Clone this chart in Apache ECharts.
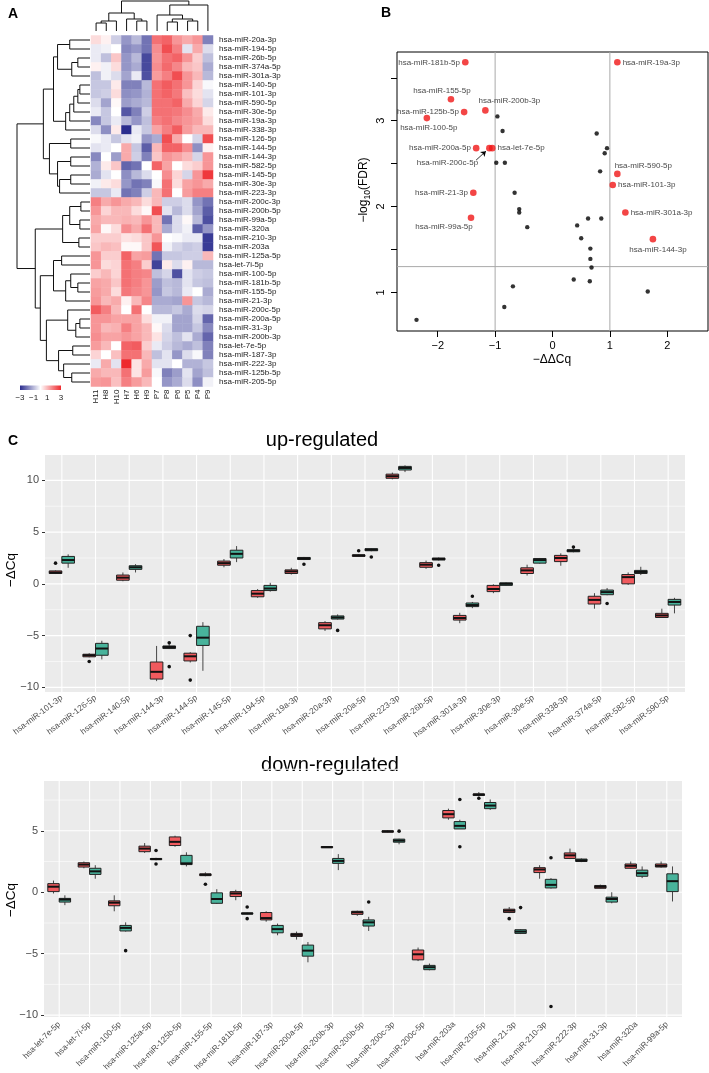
<!DOCTYPE html>
<html><head><meta charset="utf-8">
<script src="https://cdn.jsdelivr.net/npm/echarts@6/dist/echarts.min.js"></script>
<style>html,body{margin:0;padding:0;background:#fff}#c{width:709px;height:1073px}</style>
</head><body><div id="c"></div>
<script>
// ================= DATA =================
// ---- Panel A: heatmap ----
const heatCols = ['H11','H8','H10','H7','H6','H9','P7','P8','P6','P5','P4','P9'];
const heatRows = ['hsa-miR-20a-3p','hsa-miR-194-5p','hsa-miR-26b-5p','hsa-miR-374a-5p','hsa-miR-301a-3p','hsa-miR-140-5p','hsa-miR-101-3p','hsa-miR-590-5p','hsa-miR-30e-5p','hsa-miR-19a-3p','hsa-miR-338-3p','hsa-miR-126-5p','hsa-miR-144-5p','hsa-miR-144-3p','hsa-miR-582-5p','hsa-miR-145-5p','hsa-miR-30e-3p','hsa-miR-223-3p','hsa-miR-200c-3p','hsa-miR-200b-5p','hsa-miR-99a-5p','hsa-miR-320a','hsa-miR-210-3p','hsa-miR-203a','hsa-miR-125a-5p','hsa-let-7i-5p','hsa-miR-100-5p','hsa-miR-181b-5p','hsa-miR-155-5p','hsa-miR-21-3p','hsa-miR-200c-5p','hsa-miR-200a-5p','hsa-miR-31-3p','hsa-miR-200b-3p','hsa-let-7e-5p','hsa-miR-187-3p','hsa-miR-222-3p','hsa-miR-125b-5p','hsa-miR-205-5p'];
const heatValues = [
 [0.5,0.2,-0.7,-1.5,-1.0,-2.0,2.0,2.2,1.5,1.2,1.5,-1.8],
 [-0.3,-0.2,0.0,-1.7,-1.5,-2.0,1.6,2.5,1.8,-0.4,1.2,-0.5],
 [-0.3,-0.9,0.8,-1.5,-1.0,-2.6,1.5,2.0,2.2,1.5,0.7,-0.9],
 [0.2,-0.2,0.5,-1.5,-1.2,-2.6,1.6,2.1,1.7,1.0,0.8,-1.2],
 [-0.9,-0.2,-0.5,-1.3,-0.3,-2.5,1.4,1.8,2.5,1.5,1.0,-1.0],
 [-0.8,-0.8,0.3,-1.8,-1.8,-1.0,2.0,2.3,2.0,1.5,0.6,-0.1],
 [-0.8,-0.7,0.5,-1.6,-1.5,-1.1,2.0,2.2,1.9,0.9,0.5,-0.4],
 [-0.5,-1.3,0.1,-1.4,-1.2,-1.0,2.0,2.0,2.2,1.2,0.6,-0.6],
 [-0.3,-0.8,0.0,-2.4,-1.8,-0.7,2.0,2.0,1.9,1.6,1.2,0.3],
 [-1.7,-0.8,-0.3,-1.0,-1.5,-0.9,1.8,2.0,1.7,1.5,1.3,0.5],
 [-0.5,-1.6,0.3,-3.0,-0.3,-0.8,1.3,1.8,2.3,1.4,1.0,1.0],
 [-0.1,-0.3,-0.8,-0.4,-0.2,-1.5,-1.2,2.5,1.2,0.0,-0.6,2.5],
 [-0.4,-0.3,0.0,1.2,-0.8,-2.3,1.0,2.2,2.2,1.6,-1.6,0.2],
 [-1.7,0.0,-1.4,1.2,-0.7,-1.8,0.8,1.5,1.3,1.0,-0.6,1.5],
 [-1.1,0.3,0.8,-2.2,-2.0,0.0,2.2,1.3,0.0,0.5,0.7,1.5],
 [-1.2,-0.4,0.0,-1.6,-1.0,-0.5,0.0,1.6,0.6,-0.6,1.5,2.8],
 [-0.2,0.3,0.5,-1.5,-2.0,-1.8,-0.1,2.0,0.5,1.3,1.5,1.2],
 [-0.8,-0.8,-0.3,-2.0,-1.8,-0.7,1.0,2.0,0.0,1.4,1.8,1.8],
 [1.8,1.2,1.5,1.2,1.0,0.5,1.0,-0.7,-0.7,-0.5,-1.5,-2.0],
 [1.5,0.6,1.0,1.0,0.5,0.1,2.5,-0.4,-1.0,-0.5,-1.3,-2.3],
 [1.2,1.0,1.0,1.1,1.0,1.5,1.0,-2.0,-0.5,0.1,-1.0,-2.5],
 [1.3,0.1,0.5,1.6,1.2,2.0,1.0,-1.2,-0.5,-0.2,-2.3,-1.5],
 [0.7,0.7,0.7,0.4,0.5,0.8,1.5,0.0,-0.1,-0.3,-0.3,-2.8],
 [0.8,1.0,0.9,0.1,0.1,0.8,2.4,-0.2,-0.6,-0.8,-0.7,-2.8],
 [1.5,0.7,0.7,2.2,1.3,1.4,-2.0,-0.8,-0.8,-0.7,-0.7,1.0],
 [1.5,0.5,0.6,2.0,1.8,0.7,-2.7,0.3,-0.5,0.2,-1.0,-1.0],
 [0.7,1.0,0.6,2.0,1.8,1.7,-0.9,-0.6,-2.5,-0.4,-0.7,-0.8],
 [1.3,1.2,0.8,2.0,1.8,1.5,-1.4,-0.9,-1.0,-0.4,-0.8,-0.9],
 [1.4,1.2,0.5,1.9,1.7,1.5,-1.5,-0.8,-1.0,-0.3,0.0,-1.2],
 [1.5,1.0,1.2,0.2,1.0,1.7,-1.2,-1.2,-1.3,1.5,-0.8,-1.0],
 [2.3,1.8,1.0,0.0,2.0,0.0,-1.0,-1.0,-0.8,-1.2,-0.5,-0.6],
 [1.5,1.5,1.3,1.3,1.3,0.5,-0.2,-0.2,-1.3,-1.3,-0.6,-2.2],
 [1.5,1.0,1.1,1.8,1.3,1.0,0.1,-0.5,-1.3,-1.3,-0.8,-1.7],
 [1.6,1.3,1.3,1.5,1.3,1.0,0.4,-0.6,-0.9,-0.4,-1.2,-2.2],
 [1.4,1.0,0.0,2.2,2.3,0.7,-0.3,-0.7,-1.0,-1.2,-0.9,-1.8],
 [0.6,0.0,0.9,2.0,2.0,1.0,-0.9,-0.4,-1.5,-0.5,-0.1,-1.8],
 [-0.3,1.2,-0.4,3.0,0.4,1.2,-0.4,-0.4,0.0,-1.1,-1.1,-0.8],
 [1.2,1.0,1.0,2.0,0.4,1.4,-0.1,-1.8,-1.4,-0.4,-1.3,-0.9],
 [1.4,1.5,0.9,1.8,1.4,1.0,0.0,-1.5,-1.2,-0.5,-1.6,-0.2]
];
// dendrograms: [mergeHeight, left, right]; leaves are row/column indices
const rowTree = [72,
  [46,
    [36, [32, [20, 0, 1], [18, [12, 2, 3], 4]], [24, [20, [16, [12, [10, 5, 6], 7], 8], 9], 10]],
    [40, [19, 11, 12], [32, [19, 13, 14], [30, [19, 15, 16], 17]]]],
  [54,
    [27, [20, [9, 18, 19], [10, 20, 21]], [11, 22, 23]],
    [49,
      [36, [28, 24, 25], [24, [19, 26, [12, 27, 28]], 29]],
      [43, [22, 30, [14, [10, 31, 32], 33]], [31, [17, 34, 35], [26, 36, [18, 37, 38]]]]]]];
const colTree = [30,
  [18, [10, [8, 0, 1], 2], [12, 3, [10, 4, 5]]],
  [26, [16, 6, [12, [9, 7, 8], [10, 9, 10]]], 11]];
const colorbarRange = [-3, 3];
const colorbarLabels = [-3, -1, 1, 3];

// ---- Panel B: volcano ----
const volRedNames = ['hsa-miR-181b-5p','hsa-miR-19a-3p','hsa-miR-155-5p','hsa-miR-200b-3p','hsa-miR-125b-5p','hsa-miR-100-5p','hsa-miR-200a-5p','hsa-let-7e-5p','hsa-miR-200c-5p','hsa-miR-590-5p','hsa-miR-101-3p','hsa-miR-21-3p','hsa-miR-99a-5p','hsa-miR-301a-3p','hsa-miR-144-3p'];
const volRedX = [-1.52, 1.13, -1.77, -1.17, -1.54, -2.19, -1.33, -1.05, -1.10, 1.13, 1.05, -1.38, -1.42, 1.27, 1.75];
const volRedY = [3.68, 3.68, 3.25, 3.12, 3.10, 3.03, 2.68, 2.68, 2.68, 2.38, 2.25, 2.16, 1.87, 1.93, 1.62];
const volBlackX = [-0.96,-0.87,0.77,0.95,0.91,-0.98,-0.83,0.83,-0.66,-0.58,-0.58,-0.44,0.43,0.62,0.85,0.50,0.66,0.66,0.68,0.37,0.65,-0.69,1.66,-0.84,-2.37];
const volBlackY = [3.05,2.88,2.85,2.68,2.62,2.51,2.51,2.41,2.16,1.97,1.93,1.76,1.78,1.86,1.86,1.63,1.51,1.39,1.29,1.15,1.13,1.07,1.01,0.83,0.68];
const volXTicks = [-2, -1, 0, 1, 2];
const volYTicks = [1, 1.5, 2, 2.5, 3, 3.5];
const volYLabels = [1, 2, 3];
const volCutX = [-1, 1];
const volCutY = [1.3];

// ---- Panel C: boxplots [lowerWhisker, Q1, median, Q3, upperWhisker] ----
const upCats = ['hsa-miR-101-3p','hsa-miR-126-5p','hsa-miR-140-5p','hsa-miR-144-3p','hsa-miR-144-5p','hsa-miR-145-5p','hsa-miR-194-5p','hsa-miR-19a-3p','hsa-miR-20a-3p','hsa-miR-20a-5p','hsa-miR-223-3p','hsa-miR-26b-5p','hsa-miR-301a-3p','hsa-miR-30e-3p','hsa-miR-30e-5p','hsa-miR-338-3p','hsa-miR-374a-5p','hsa-miR-582-5p','hsa-miR-590-5p'];
const upRed = [
 [0.95,1.0,1.1,1.25,1.3],[-7.1,-7.05,-6.9,-6.8,-6.7],[0.25,0.35,0.6,0.85,1.1],[-9.4,-9.2,-8.5,-7.55,-6.0],
 [-7.6,-7.45,-7.0,-6.7,-6.6],[1.6,1.8,2.0,2.2,2.4],[-1.35,-1.25,-0.95,-0.65,-0.5],[0.9,1.0,1.2,1.35,1.55],
 [-4.55,-4.35,-4.0,-3.75,-3.6],[2.6,2.65,2.75,2.8,2.85],[10.1,10.2,10.4,10.6,10.75],[1.45,1.6,1.85,2.05,2.25],
 [-3.8,-3.5,-3.3,-3.05,-2.8],[-0.9,-0.75,-0.5,-0.15,-0.05],[0.8,1.0,1.3,1.55,1.85],[1.75,2.15,2.5,2.75,2.95],
 [-2.4,-1.95,-1.55,-1.2,-0.9],[-0.1,0.0,0.65,0.9,1.1],[-3.3,-3.25,-3.05,-2.85,-2.4]];
const upTeal = [
 [1.55,2.0,2.3,2.65,2.85],[-7.3,-6.9,-6.25,-5.75,-5.5],[1.1,1.4,1.6,1.75,1.9],[-6.3,-6.25,-6.1,-6.0,-5.85],
 [-8.4,-5.95,-5.2,-4.1,-3.7],[2.1,2.5,2.9,3.25,3.65],[-0.75,-0.65,-0.45,-0.15,0.1],[2.3,2.35,2.45,2.55,2.6],
 [-3.45,-3.4,-3.25,-3.1,-2.95],[3.15,3.2,3.3,3.4,3.45],[10.8,11.0,11.2,11.35,11.45],[2.25,2.3,2.4,2.5,2.55],
 [-2.35,-2.2,-2.05,-1.85,-1.75],[-0.2,-0.15,0.0,0.1,0.15],[1.95,2.0,2.3,2.45,2.5],[3.05,3.1,3.2,3.3,3.4],
 [-1.1,-1.05,-0.8,-0.6,-0.4],[0.85,1.0,1.15,1.3,1.65],[-2.85,-2.05,-1.75,-1.5,-1.35]];
const upRedOut = [[2.0],[-7.5],[],[],[-5.0,-9.3],[],[],[],[],[3.2],[],[],[],[],[],[],[],[],[]];
const upTealOut = [[],[],[],[-5.7,-8.0],[],[],[],[1.9],[-4.5],[2.6],[],[1.8],[-1.2],[],[],[3.55],[-1.9],[],[]];

const downCats = ['hsa-let-7e-5p','hsa-let-7i-5p','hsa-miR-100-5p','hsa-miR-125a-5p','hsa-miR-125b-5p','hsa-miR-155-5p','hsa-miR-181b-5p','hsa-miR-187-3p','hsa-miR-200a-5p','hsa-miR-200b-3p','hsa-miR-200b-5p','hsa-miR-200c-3p','hsa-miR-200c-5p','hsa-miR-203a','hsa-miR-205-5p','hsa-miR-21-3p','hsa-miR-210-3p','hsa-miR-222-3p','hsa-miR-31-3p','hsa-miR-320a','hsa-miR-99a-5p'];
const downRed = [
 [-0.1,0.05,0.45,0.7,0.95],[1.95,2.05,2.25,2.4,2.5],[-1.55,-1.1,-0.85,-0.7,-0.25],[3.2,3.3,3.55,3.75,4.0],
 [3.7,3.8,4.1,4.5,4.6],[1.3,1.35,1.42,1.5,1.62],[-0.65,-0.35,-0.1,0.05,0.2],[-2.4,-2.25,-2.1,-1.65,-1.55],
 [-3.85,-3.6,-3.47,-3.35,-3.2],[3.6,3.62,3.67,3.72,3.75],[-1.92,-1.8,-1.63,-1.55,-1.5],[4.85,4.88,4.95,5.0,5.05],
 [-5.6,-5.5,-5.05,-4.7,-4.5],[5.9,6.05,6.35,6.65,6.8],[7.8,7.87,7.95,8.0,8.15],[-1.7,-1.65,-1.5,-1.38,-1.2],
 [1.1,1.6,1.85,2.0,2.2],[2.7,2.75,3.0,3.2,3.55],[0.3,0.32,0.44,0.55,0.62],[1.9,1.95,2.15,2.3,2.5],[2.0,2.05,2.15,2.3,2.5]];
const downTeal = [
 [-1.05,-0.8,-0.6,-0.5,-0.25],[1.1,1.45,1.7,1.95,2.2],[-3.2,-3.15,-2.9,-2.7,-2.45],[2.6,2.65,2.7,2.75,2.8],
 [2.1,2.25,2.35,3.0,3.25],[-0.95,-0.9,-0.55,-0.05,0.25],[-1.8,-1.78,-1.73,-1.68,-1.65],[-3.5,-3.3,-3.0,-2.7,-2.55],
 [-5.7,-5.2,-4.75,-4.3,-4.05],[1.8,2.35,2.55,2.75,3.1],[-3.15,-2.75,-2.45,-2.25,-2.0],[3.9,4.07,4.2,4.32,4.35],
 [-6.35,-6.3,-6.1,-5.95,-5.8],[5.15,5.15,5.4,5.75,5.9],[6.7,6.8,7.05,7.3,7.55],[-3.4,-3.35,-3.2,-3.05,-3.0],
 [0.3,0.35,0.6,1.05,1.15],[2.45,2.5,2.6,2.7,2.75],[-0.9,-0.8,-0.55,-0.4,0.0],[1.15,1.3,1.55,1.8,2.1],[-0.75,0.05,0.9,1.5,2.1]];
const downRedOut = [[],[],[],[],[],[0.65],[],[],[],[],[],[],[],[],[7.65],[-2.15],[],[],[],[],[]];
const downTealOut = [[],[],[-4.75],[3.4,2.3],[],[],[-1.2,-2.15],[],[],[],[-0.8],[4.97],[],[7.55,3.7],[],[-1.25],[2.8,-9.3],[],[],[],[]];

const boxTicks = [-10, -5, 0, 5, 10];
const upMinor = [-7.5, -2.5, 2.5, 7.5];
const downMinor = [-7.5, -2.5, 2.5, 7.5];

// ================= STYLE =================
const FONT = 'Liberation Sans, Arial, sans-serif';
const heatPalette = ['#2b2d8e', '#ffffff', '#ee2a2e'];
const RED = '#f05a5e', TEAL = '#48b39b';
const volLabelPlacement = {
 'hsa-miR-181b-5p': ['left', [0, 0]], 'hsa-miR-19a-3p': ['right', [0, 0]],
 'hsa-miR-155-5p': ['top', [-9, 1]], 'hsa-miR-200b-3p': ['top', [24, 0]],
 'hsa-miR-125b-5p': ['left', [0, 0]], 'hsa-miR-100-5p': ['bottom', [2, 0]],
 'hsa-miR-200a-5p': ['left', [0, 0]], 'hsa-let-7e-5p': ['right', [0, 0]],
 'hsa-miR-200c-5p': ['left', [-6, 15]], 'hsa-miR-590-5p': ['top', [26, 1]],
 'hsa-miR-101-3p': ['right', [0, 0]], 'hsa-miR-21-3p': ['left', [0, 0]],
 'hsa-miR-99a-5p': ['bottom', [-27, 0]], 'hsa-miR-301a-3p': ['right', [0, 0]],
 'hsa-miR-144-3p': ['bottom', [5, 1]]
};
const minus = v => (v < 0 ? '\u2212' + (-v) : String(v));

// ================= HELPERS =================
function layoutTree(node, out) {
  if (typeof node === 'number') return { pos: node, h: 0 };
  const a = layoutTree(node[1], out), b = layoutTree(node[2], out);
  out.push([node[0], a.pos, a.h, b.pos, b.h]);
  return { pos: (a.pos + b.pos) / 2, h: node[0] };
}
const rowMerges = []; layoutTree(rowTree, rowMerges);
const colMerges = []; layoutTree(colTree, colMerges);

function dendroRender(orient) {
  return function (params, api) {
    const h = api.value(0), pL = api.value(1), hL = api.value(2), pR = api.value(3), hR = api.value(4);
    const pt = orient === 'left' ? (hh, pp) => api.coord([hh, pp]) : (hh, pp) => api.coord([pp, hh]);
    return { type: 'polyline', shape: { points: [pt(hL, pL), pt(h, pL), pt(h, pR), pt(hR, pR)] },
      style: { stroke: '#111', lineWidth: 1, fill: 'none' } };
  };
}
function boxRender(color) {
  return function (params, api) {
    const ci = api.value(0), side = api.value(6);
    const band = api.size([1, 0])[0];
    const cx = api.coord([ci, 0])[0] + side * 0.1875 * band;
    const w = 0.375 * band;
    const y = k => api.coord([ci, api.value(k)])[1];
    const lo = y(1), q1 = y(2), md = y(3), q3 = y(4), hi = y(5);
    return { type: 'group', children: [
      { type: 'line', shape: { x1: cx, y1: hi, x2: cx, y2: q3 }, style: { stroke: '#333', lineWidth: 0.9 } },
      { type: 'line', shape: { x1: cx, y1: q1, x2: cx, y2: lo }, style: { stroke: '#333', lineWidth: 0.9 } },
      { type: 'rect', shape: { x: cx - w / 2, y: q3, width: w, height: Math.max(q1 - q3, 0.5) },
        style: { fill: color, stroke: '#222', lineWidth: 1 } },
      { type: 'line', shape: { x1: cx - w / 2, y1: md, x2: cx + w / 2, y2: md }, style: { stroke: '#111', lineWidth: 2 } }
    ] };
  };
}
function outRender(params, api) {
  const ci = api.value(0), side = api.value(2);
  const band = api.size([1, 0])[0];
  const p = api.coord([ci, api.value(1)]);
  return { type: 'circle', shape: { cx: p[0] + side * 0.1875 * band, cy: p[1], r: 1.8 }, style: { fill: '#111' } };
}
function gridRender(params, api) {
  const cs = params.coordSys, kind = api.value(0), v = api.value(1);
  if (kind === 2) {
    const x = api.coord([v, 0])[0];
    return { type: 'line', shape: { x1: x, y1: cs.y, x2: x, y2: cs.y + cs.height }, style: { stroke: '#fff', lineWidth: 1.1 } };
  }
  const yy = api.coord([0, v])[1];
  return { type: 'line', shape: { x1: cs.x, y1: yy, x2: cs.x + cs.width, y2: yy },
    style: { stroke: '#fff', lineWidth: kind === 0 ? 1.1 : 0.55 } };
}
function refRender(params, api) {
  const cs = params.coordSys, kind = api.value(0), v = api.value(1);
  if (kind === 0) {
    const x = api.coord([v, 1])[0];
    return { type: 'line', shape: { x1: x, y1: cs.y, x2: x, y2: cs.y + cs.height }, style: { stroke: '#a9a9a9', lineWidth: 1 } };
  }
  const yy = api.coord([0, v])[1];
  return { type: 'line', shape: { x1: cs.x, y1: yy, x2: cs.x + cs.width, y2: yy }, style: { stroke: '#a9a9a9', lineWidth: 1 } };
}
function boxData(arr, side) { return arr.map((b, i) => [i, b[0], b[1], b[2], b[3], b[4], side]); }
function outData(arr, side) { const o = []; arr.forEach((vs, i) => vs.forEach(v => o.push([i, v, side]))); return o; }
function gridData(cats, major, minor) {
  return major.map(v => [0, v]).concat(minor.map(v => [1, v])).concat(cats.map((c, i) => [2, i]));
}

// ================= AXES =================
const hidden = { show: false };
const noLine = { show: false, onZero: false };
const boxXAxis = (gi, cats, rot, fs, mg) => ({
  type: 'category', gridIndex: gi, data: cats, boundaryGap: true,
  axisLine: noLine, splitLine: hidden,
  axisTick: { alignWithLabel: true, length: 3, lineStyle: { color: '#333' } },
  axisLabel: { rotate: rot, interval: 0, fontSize: fs, color: '#4d4d4d', margin: mg, fontFamily: FONT }
});
const boxYAxis = (gi, mn, mx) => ({
  type: 'value', gridIndex: gi, min: mn, max: mx,
  axisLine: noLine, splitLine: hidden,
  axisTick: { show: true, customValues: boxTicks, length: 3, lineStyle: { color: '#333' } },
  axisLabel: { customValues: boxTicks, fontSize: 11, color: '#4d4d4d', margin: 6, fontFamily: FONT, formatter: minus }
});

const heatData = [];
heatValues.forEach((row, r) => row.forEach((v, c) => heatData.push([c, r, v])));

const i200c = volRedNames.indexOf('hsa-miR-200c-5p');
const ax = volRedX[i200c], ay = volRedY[i200c];
const G = { outerBoundsMode: 'none', containLabel: false };

const option = {
  animation: false,
  textStyle: { fontFamily: FONT },
  grid: [
    Object.assign({ left: 91, top: 35.5, width: 122, height: 351 }, G),                    // 0 heatmap
    Object.assign({ left: 17, top: 35.5, width: 73, height: 351 }, G),                     // 1 row dendrogram
    Object.assign({ left: 91, top: 1, width: 122, height: 30 }, G),                        // 2 col dendrogram
    Object.assign({ left: 20, top: 385.5, width: 41, height: 4.5 }, G),                    // 3 colorbar
    Object.assign({ left: 397, top: 52, width: 311, height: 279, show: true, borderColor: '#000', borderWidth: 1, backgroundColor: 'transparent' }, G), // 4 volcano
    Object.assign({ left: 45, top: 455, width: 640, height: 237, show: true, borderWidth: 0, backgroundColor: '#ebebeb' }, G),  // 5 up
    Object.assign({ left: 44, top: 781, width: 638, height: 236, show: true, borderWidth: 0, backgroundColor: '#ebebeb' }, G)   // 6 down
  ],
  xAxis: [
    { type: 'category', gridIndex: 0, data: heatCols, axisLine: noLine, axisTick: hidden, splitLine: hidden,
      axisLabel: { rotate: 90, fontSize: 8, color: '#222', margin: 3, interval: 0 } },
    { type: 'value', gridIndex: 1, min: 0, max: 72, inverse: true, show: false },
    { type: 'value', gridIndex: 2, min: -0.5, max: 11.5, show: false },
    { type: 'value', gridIndex: 3, min: -3, max: 3, interval: 1, axisLine: noLine, splitLine: hidden,
      axisTick: { show: true, inside: true, length: 2, lineStyle: { color: '#fff', width: 0.8 } },
      axisLabel: { fontSize: 8, color: '#222', margin: 4, formatter: v => (colorbarLabels.indexOf(v) >= 0 ? minus(v) : '') } },
    { type: 'value', gridIndex: 4, min: -2.71, max: 2.71, axisLine: noLine, splitLine: hidden,
      axisTick: { show: true, customValues: volXTicks, length: 6, lineStyle: { color: '#000' } },
      axisLabel: { customValues: volXTicks, fontSize: 11, color: '#000', margin: 9, formatter: minus } },
    boxXAxis(5, upCats, 37, 8.3, 5),
    boxXAxis(6, downCats, 45, 8.3, 6)
  ],
  yAxis: [
    { type: 'category', gridIndex: 0, data: heatRows, inverse: true, position: 'right', axisLine: noLine, axisTick: hidden, splitLine: hidden,
      axisLabel: { fontSize: 8, color: '#222', margin: 6, interval: 0 } },
    { type: 'value', gridIndex: 1, min: -0.5, max: 38.5, inverse: true, show: false },
    { type: 'value', gridIndex: 2, min: 0, max: 30, show: false },
    { type: 'value', gridIndex: 3, min: 0, max: 1, show: false },
    { type: 'value', gridIndex: 4, min: 0.55, max: 3.8, axisLine: noLine, splitLine: hidden,
      axisTick: { show: true, customValues: volYTicks, length: 6, lineStyle: { color: '#000' } },
      axisLabel: { customValues: volYLabels, rotate: 90, fontSize: 11, color: '#000', margin: 11 } },
    boxYAxis(5, -10.45, 12.45),
    boxYAxis(6, -10.15, 9.05)
  ],
  visualMap: [{ type: 'continuous', show: false, min: -3, max: 3, dimension: 2, seriesIndex: 0, inRange: { color: heatPalette } }],
  series: [
    { type: 'heatmap', xAxisIndex: 0, yAxisIndex: 0, data: heatData, itemStyle: { borderWidth: 0 }, emphasis: { disabled: true } },
    { type: 'custom', xAxisIndex: 1, yAxisIndex: 1, data: rowMerges, renderItem: dendroRender('left'), silent: true, clip: false, encode: { x: 0, y: 1 } },
    { type: 'custom', xAxisIndex: 2, yAxisIndex: 2, data: colMerges, renderItem: dendroRender('top'), silent: true, clip: false, encode: { x: 1, y: 0 } },
    { type: 'custom', xAxisIndex: 3, yAxisIndex: 3, data: [colorbarRange], silent: true, clip: false, z: 1,
      renderItem: function (params, api) {
        const p0 = api.coord([api.value(0), 0]), p1 = api.coord([api.value(1), 1]);
        return { type: 'rect', shape: { x: p0[0], y: p1[1], width: p1[0] - p0[0], height: p0[1] - p1[1] },
          style: { fill: { type: 'linear', x: 0, y: 0, x2: 1, y2: 0, colorStops: heatPalette.map((c, i) => ({ offset: i / (heatPalette.length - 1), color: c })) } } };
      } },
    // volcano
    { type: 'custom', xAxisIndex: 4, yAxisIndex: 4, silent: true, z: 1,
      data: volCutX.map(v => [0, v]).concat(volCutY.map(v => [1, v])), renderItem: refRender },
    { type: 'scatter', xAxisIndex: 4, yAxisIndex: 4, z: 3, symbolSize: 4.4, itemStyle: { color: '#000' }, silent: true,
      data: volBlackX.map((x, i) => [x, volBlackY[i]]) },
    { type: 'scatter', xAxisIndex: 4, yAxisIndex: 4, z: 4, symbolSize: 6.6, itemStyle: { color: '#f01616' }, silent: true,
      label: { show: true, formatter: '{b}', fontSize: 8, color: '#111', distance: 2, fontFamily: FONT },
      data: volRedNames.map((n, i) => ({ name: n, value: [volRedX[i], volRedY[i]],
        label: { position: volLabelPlacement[n][0], offset: volLabelPlacement[n][1] } })),
      markLine: { silent: true, symbol: ['none', 'arrow'], symbolSize: 5, animation: false, label: { show: false },
        lineStyle: { color: '#000', width: 0.8, type: 'solid' },
        data: [[{ coord: [ax - 0.232, ay - 0.14] }, { coord: [ax - 0.06, ay - 0.035] }]] } },
    // up-regulated
    { type: 'custom', xAxisIndex: 5, yAxisIndex: 5, silent: true, z: 1, data: gridData(upCats, boxTicks, upMinor), renderItem: gridRender },
    { type: 'custom', xAxisIndex: 5, yAxisIndex: 5, silent: true, z: 2, data: boxData(upRed, -1), renderItem: boxRender(RED) },
    { type: 'custom', xAxisIndex: 5, yAxisIndex: 5, silent: true, z: 2, data: boxData(upTeal, 1), renderItem: boxRender(TEAL) },
    { type: 'custom', xAxisIndex: 5, yAxisIndex: 5, silent: true, z: 3, data: outData(upRedOut, -1).concat(outData(upTealOut, 1)), renderItem: outRender },
    // down-regulated
    { type: 'custom', xAxisIndex: 6, yAxisIndex: 6, silent: true, z: 1, data: gridData(downCats, boxTicks, downMinor), renderItem: gridRender },
    { type: 'custom', xAxisIndex: 6, yAxisIndex: 6, silent: true, z: 2, data: boxData(downRed, -1), renderItem: boxRender(RED) },
    { type: 'custom', xAxisIndex: 6, yAxisIndex: 6, silent: true, z: 2, data: boxData(downTeal, 1), renderItem: boxRender(TEAL) },
    { type: 'custom', xAxisIndex: 6, yAxisIndex: 6, silent: true, z: 3, data: outData(downRedOut, -1).concat(outData(downTealOut, 1)), renderItem: outRender }
  ],
  graphic: [
    { type: 'text', x: 13, y: 14, style: { text: 'A', font: 'bold 14px ' + FONT, fill: '#000', textAlign: 'center', textVerticalAlign: 'middle' } },
    { type: 'text', x: 386, y: 13, style: { text: 'B', font: 'bold 14px ' + FONT, fill: '#000', textAlign: 'center', textVerticalAlign: 'middle' } },
    { type: 'text', x: 13, y: 441, style: { text: 'C', font: 'bold 14px ' + FONT, fill: '#000', textAlign: 'center', textVerticalAlign: 'middle' } },
    { type: 'text', x: 322, y: 440, style: { text: 'up-regulated', font: '20px ' + FONT, fill: '#000', textAlign: 'center', textVerticalAlign: 'middle' } },
    { type: 'text', x: 330, y: 765, style: { text: 'down-regulated', font: '20px ' + FONT, fill: '#000', textAlign: 'center', textVerticalAlign: 'middle' } },
    { type: 'text', x: 11, y: 570, rotation: Math.PI / 2, style: { text: '\u2212\u0394Cq', font: '13.5px ' + FONT, fill: '#000', textAlign: 'center', textVerticalAlign: 'middle' } },
    { type: 'text', x: 11, y: 900, rotation: Math.PI / 2, style: { text: '\u2212\u0394Cq', font: '13.5px ' + FONT, fill: '#000', textAlign: 'center', textVerticalAlign: 'middle' } },
    { type: 'text', x: 552, y: 360, style: { text: '\u2212\u0394\u0394Cq', font: '12px ' + FONT, fill: '#000', textAlign: 'center', textVerticalAlign: 'middle' } },
    { type: 'text', x: 364, y: 190, rotation: Math.PI / 2,
      style: { text: '\u2212log{s|10}(FDR)', font: '12px ' + FONT, fill: '#000', textAlign: 'center', textVerticalAlign: 'middle',
        rich: { s: { fontSize: 8.5, fontFamily: FONT, padding: [7, 0, 0, 0] } } } }
  ]
};
const chart = echarts.init(document.getElementById('c'), null, { renderer: 'canvas' });
chart.setOption(option);
</script></body></html>
